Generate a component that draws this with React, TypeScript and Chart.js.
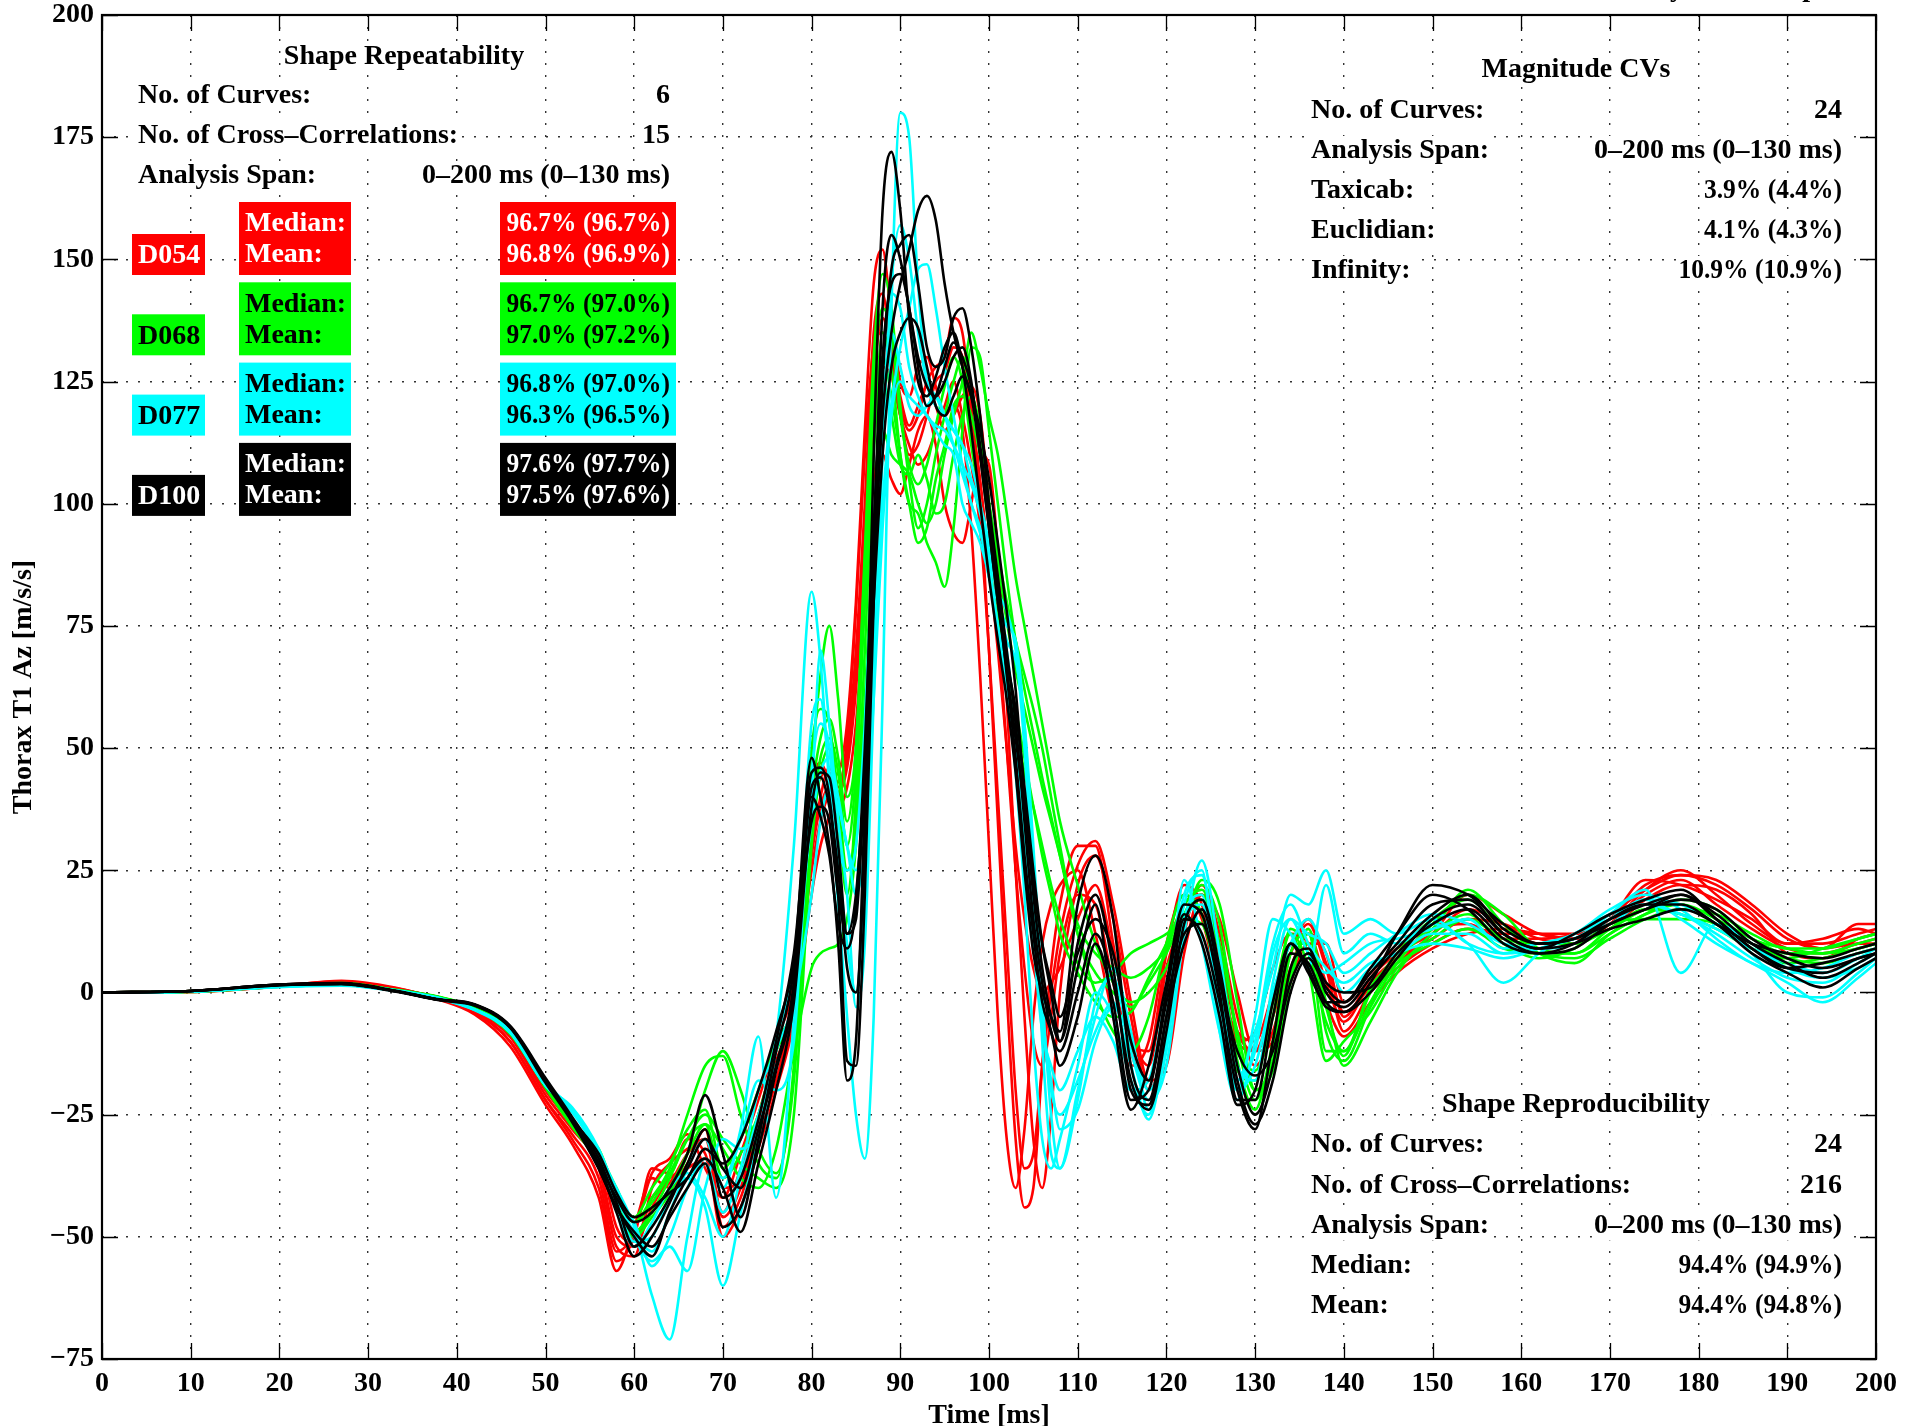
import React, { useEffect, useRef } from 'react';
import { Chart, registerables } from 'chart.js';

Chart.register(...registerables);

// ---------------- DATA ----------------
const TIME_MS = [0, 10, 20, 27, 33, 38, 42, 46, 50, 53,
  56, 58, 60, 62, 64, 66, 68, 70, 72, 74, 76, 78,
  80, 81, 82, 83, 84, 85, 86, 87, 88, 89, 90, 91, 92, 93, 94, 95, 96, 97, 98, 99, 100, 101, 102, 103, 104, 105, 106, 107,
  108, 110, 112, 114, 116, 118, 120, 122, 124, 126, 128, 130, 132, 134, 136, 138, 140,
  143, 146, 150, 154, 158, 162, 166, 170, 174, 178, 182, 186, 190, 194, 198, 200];

const D054_CURVES = [
  [0, 0.2, 1.4, 2.3, 0.8, -1.2, -4, -10, -22, -30,
    -40, -55, -50, -36, -37, -30, -33, -45, -36, -25, -12, 0,
    42, 47, 44, 45, 55, 80, 115, 145, 152, 138, 125, 122, 128, 130, 124, 118, 120, 115, 95, 65, 30, -5, -30, -40, -28, -5, 10, 18,
    22, 25, 12, -5, -15, -10, 10, 20, 15, 0, -8, -10, 0, 10, 12, 2, -6,
    2, 7, 11, 15, 14, 11, 10, 14, 21, 25, 20, 14, 10, 10, 12, 13],
  [0, 0.1, 1.2, 2, 0.6, -1, -3.5, -9, -21, -28,
    -36, -52, -54, -40, -35, -32, -30, -40, -38, -28, -15, -4,
    30, 40, 46, 43, 50, 70, 100, 135, 143, 130, 120, 115, 118, 125, 128, 130, 138, 135, 120, 100, 70, 35, 0, -30, -44, -40, -15, 5,
    18, 30, 30, 10, -12, -18, 0, 18, 20, 5, -10, -12, -2, 8, 14, 5, -8,
    0, 5, 10, 13, 12, 12, 12, 15, 22, 24, 22, 17, 11, 9, 14, 14],
  [0, 0.2, 1.3, 2.4, 1, -1.5, -4.5, -11, -23, -31,
    -42, -57, -48, -38, -40, -35, -28, -48, -42, -30, -18, -2,
    25, 35, 40, 38, 42, 55, 80, 105, 110, 105, 102, 108, 115, 118, 112, 100, 94, 92, 100, 110, 108, 90, 60, 25, -5, -30, -40, -25,
    0, 22, 28, 15, -5, -20, -10, 12, 22, 12, -5, -15, -8, 5, 12, 8, -5,
    3, 8, 12, 17, 14, 10, 11, 13, 19, 22, 21, 16, 8, 7, 11, 12],
  [0, 0.3, 1.5, 2.1, 0.7, -1.1, -3.8, -9, -20, -27,
    -35, -50, -52, -44, -38, -36, -34, -50, -44, -32, -20, -6,
    20, 30, 36, 40, 48, 65, 95, 125, 138, 132, 122, 116, 120, 124, 120, 115, 118, 122, 124, 118, 100, 75, 50, 25, 5, -10, -15, -5,
    8, 20, 18, 2, -10, -12, 8, 22, 18, 2, -10, -8, 5, 12, 10, -2, -9,
    -2, 4, 9, 12, 13, 12, 11, 14, 20, 23, 18, 13, 9, 8, 10, 11],
  [0, 0.2, 1.3, 2.2, 0.9, -1.3, -4.2, -10, -22, -29,
    -38, -53, -49, -37, -34, -29, -36, -42, -33, -22, -10, 2,
    35, 44, 45, 42, 52, 78, 110, 132, 135, 128, 118, 110, 112, 118, 125, 127, 132, 130, 118, 105, 88, 70, 50, 30, 15, 5, 0, 2,
    5, 15, 22, 8, -8, -15, 5, 15, 20, 8, -8, -12, -5, 8, 15, 6, -4,
    1, 6, 12, 20, 16, 12, 11, 15, 23, 22, 19, 15, 10, 11, 13, 12],
  [0, 0.1, 1.2, 1.9, 0.5, -1, -3.6, -8.5, -20, -27,
    -33, -48, -51, -42, -39, -33, -30, -46, -40, -27, -14, -3,
    28, 38, 42, 41, 46, 62, 88, 115, 128, 126, 118, 112, 108, 110, 115, 120, 125, 118, 108, 95, 70, 40, 10, -20, -36, -33, -15, 0,
    12, 26, 31, 18, -2, -18, -15, 8, 20, 15, 0, -12, -10, 2, 10, 10, -2,
    4, 9, 13, 14, 11, 11, 12, 16, 21, 24, 23, 18, 12, 9, 10, 10],
];

const D068_CURVES = [
  [0, 0.2, 1.3, 1.8, 0.5, -1, -3.2, -8, -19, -27,
    -33, -40, -47, -42, -36, -25, -15, -13, -25, -35, -38, -15,
    45, 65, 75, 60, 40, 50, 90, 130, 147, 140, 120, 105, 95, 100, 110, 118, 125, 130, 124, 110, 100, 90, 80, 72, 65, 58, 50, 40,
    30, 12, 4, 0, -3, 2, 8, 16, 22, 14, -10, -22, -12, 8, 12, -8, -14,
    -3, 6, 14, 20, 16, 9, 8, 12, 16, 18, 15, 11, 8, 8, 10, 11],
  [0, 0.1, 1.2, 1.7, 0.4, -1.1, -3.4, -8.5, -19.5, -27.5,
    -35, -43, -49, -45, -40, -33, -27, -32, -38, -40, -32, -12,
    5, 8, 9, 10, 15, 30, 60, 95, 115, 110, 108, 106, 100, 96, 100, 110, 118, 125, 135, 128, 118, 110, 98, 85, 75, 65, 55, 45,
    35, 22, 10, 2, -2, 0, 5, 14, 23, 18, -2, -20, -16, 2, 13, -2, -15,
    -6, 4, 12, 16, 10, 7, 9, 14, 15, 15, 14, 9, 6, 7, 9, 10],
  [0, 0.2, 1.4, 1.9, 0.6, -0.9, -3, -7.5, -18.5, -26.5,
    -35, -43, -49, -45, -38, -30, -25, -30, -35, -38, -40, -25,
    30, 45, 50, 35, 20, 40, 85, 120, 130, 122, 110, 100, 92, 95, 105, 112, 120, 122, 118, 110, 100, 88, 76, 66, 58, 50, 42, 35,
    28, 14, 8, 5, 3, 5, 9, 18, 20, 8, -14, -24, -10, 10, 10, -12, -12,
    0, 8, 15, 19, 12, 8, 7, 11, 15, 17, 16, 12, 9, 9, 11, 12],
  [0, 0.3, 1.3, 1.8, 0.5, -1.2, -3.3, -8, -19, -27,
    -32, -41, -46, -40, -35, -28, -24, -36, -30, -20, -10, 0,
    50, 58, 55, 40, 25, 35, 70, 110, 135, 128, 110, 100, 98, 92, 88, 83, 95, 115, 132, 130, 115, 100, 85, 72, 62, 53, 44, 36,
    28, 12, 0, -8, -12, -5, 10, 20, 16, 0, -16, -18, -2, 12, 5, -14, -10,
    -4, 5, 11, 15, 11, 10, 10, 13, 17, 18, 14, 10, 7, 6, 8, 9],
  [0, 0.2, 1.2, 1.7, 0.4, -1, -3.1, -8, -19, -27,
    -34, -44, -50, -46, -41, -33, -20, -12, -20, -32, -37, -18,
    35, 48, 52, 45, 30, 45, 80, 112, 125, 118, 108, 106, 110, 105, 98, 100, 110, 118, 122, 115, 100, 80, 65, 55, 45, 38, 30, 22,
    15, 6, 2, 4, 8, 10, 12, 15, 14, 2, -12, -16, -5, 13, 8, -6, -12,
    -2, 7, 13, 21, 14, 8, 6, 12, 16, 19, 17, 11, 9, 8, 9, 10],
  [0, 0.2, 1.3, 1.8, 0.5, -1, -3.2, -8, -19, -27,
    -33, -42, -47, -43, -37, -30, -27, -38, -33, -25, -12, -2,
    40, 52, 56, 48, 35, 50, 88, 125, 140, 135, 118, 108, 104, 108, 116, 124, 130, 125, 112, 100, 88, 76, 66, 58, 48, 38, 28, 20,
    12, 4, -2, -5, -4, 3, 10, 18, 21, 10, -8, -20, -14, 4, 12, -3, -13,
    1, 6, 10, 13, 9, 8, 8, 13, 17, 16, 13, 9, 7, 9, 11, 12],
];

const D077_CURVES = [
  [0, 0.2, 1.2, 1.5, 0.4, -1.2, -3.5, -8, -19, -24,
    -33, -40, -48, -62, -71, -50, -35, -45, -36, -20, -9, 30,
    82, 68, 42, 18, -5, -25, -34, -5, 60, 140, 180, 175, 145, 125, 120, 118, 115, 112, 108, 100, 88, 75, 62, 45, 20, -10, -30, -36,
    -30, -15, 0, -5, -18, -25, -5, 18, 25, -5, -20, -5, 15, 12, 5, 22, 8,
    12, 10, 14, 10, 2, 8, 12, 15, 19, 15, 10, 6, 2, -2, 3, 6],
  [0, 0.2, 1.1, 1.4, 0.3, -1.3, -3.6, -8.2, -19, -23.5,
    -32, -41, -50, -55, -52, -57, -40, -30, -32, -28, -12, 0,
    40, 70, 55, 35, 20, -3, 10, 60, 110, 145, 157, 150, 135, 125, 122, 118, 115, 112, 105, 100, 92, 80, 72, 68, 55, 30, 0, -25,
    -36, -20, -5, 5, -8, -24, -12, 15, 20, -8, -22, -10, 10, 18, 10, 5, 2,
    6, 8, 12, 12, 8, 10, 11, 16, 21, 4, 14, 10, 5, 3, 5, 7],
  [0, 0.2, 1.3, 1.6, 0.5, -1.1, -3.4, -7.8, -18.5, -24,
    -34, -43, -51, -50, -42, -38, -44, -60, -45, -30, -10, 5,
    35, 45, 48, 40, 30, 25, 40, 70, 100, 120, 132, 140, 148, 149, 140, 128, 118, 108, 100, 95, 85, 80, 75, 72, 55, 25, -10, -33,
    -36, -22, -2, 3, -12, -22, -15, 12, 27, 8, -15, -18, 2, 15, 12, 10, 4,
    8, 12, 16, 14, 10, 9, 10, 15, 19, 18, 14, 8, 0, -1, 4, 7],
  [0, 0.2, 1.2, 1.5, 0.4, -1.2, -3.5, -8, -19, -24.5,
    -33, -42, -49, -53, -45, -36, -30, -40, -28, -9, -42, -5,
    55, 60, 45, 30, 25, 30, 55, 95, 128, 143, 140, 128, 122, 118, 116, 115, 112, 108, 104, 98, 90, 82, 78, 70, 50, 20, -5, -20,
    -25, -18, -8, -2, -15, -26, -8, 23, 10, -8, -18, -8, 5, 20, 18, 25, 12,
    15, 12, 15, 10, 8, 9, 12, 16, 18, 16, 12, 7, 3, 2, 6, 8],
  [0, 0.2, 1.2, 1.5, 0.4, -1.2, -3.5, -8, -19, -24,
    -34, -44, -52, -47, -40, -37, -42, -50, -38, -25, -15, -2,
    20, 35, 42, 38, 30, 20, 30, 60, 95, 118, 125, 122, 120, 118, 115, 112, 110, 100, 96, 92, 85, 75, 65, 50, 30, 10, -8, -15,
    -20, -12, -5, -10, -20, -18, 0, 20, 24, 2, -18, -12, 8, 15, 8, 4, 6,
    10, 11, 13, 15, 9, 10, 12, 17, 20, 17, 11, 6, 4, 5, 8, 9],
  [0, 0.2, 1.2, 1.5, 0.4, -1.2, -3.5, -8, -19, -24,
    -33, -42, -47, -56, -50, -40, -34, -38, -30, -18, -20, -10,
    45, 55, 50, 28, 10, 0, 25, 75, 118, 135, 128, 120, 118, 120, 122, 118, 112, 106, 100, 94, 88, 82, 70, 55, 35, 15, -5, -18,
    -28, -24, -10, -3, -10, -20, -10, 14, 18, -2, -20, -15, 0, 10, 15, 8, 0,
    5, 8, 10, 9, 7, 9, 11, 14, 18, 16, 13, 9, 6, 4, 7, 9],
];

const D100_CURVES = [
  [0, 0.3, 1.6, 1.8, 0.3, -1.5, -2.5, -7, -18, -26,
    -35, -42, -47, -45, -40, -33, -21, -33, -46, -30, -12, 5,
    48, 40, 30, 10, -18, -10, 40, 110, 160, 172, 160, 138, 125, 122, 126, 132, 135, 128, 115, 100, 85, 72, 60, 45, 25, 8, 0, -5,
    -8, 18, 28, 15, -15, -22, -5, 15, 12, -2, -20, -28, -10, 8, 6, -2, -4,
    2, 12, 22, 20, 14, 10, 11, 15, 18, 20, 16, 10, 6, 3, 6, 8],
  [0, 0.3, 1.5, 1.7, 0.2, -1.6, -2.7, -7.2, -18.5, -26.5,
    -36, -44, -50, -54, -45, -38, -34, -40, -49, -35, -20, -2,
    38, 45, 44, 30, 12, 15, 45, 85, 118, 135, 145, 152, 160, 163, 158, 145, 135, 128, 122, 115, 105, 92, 78, 62, 40, 20, 5, -5,
    -10, 5, 18, -5, -24, -15, 2, 18, 16, 0, -22, -22, -5, 10, 4, -2, -2,
    4, 10, 18, 19, 12, 9, 12, 16, 19, 21, 15, 9, 5, 6, 8, 9],
  [0, 0.3, 1.6, 1.9, 0.4, -1.4, -2.4, -6.8, -17.5, -25.5,
    -34, -43, -52, -48, -42, -36, -30, -36, -40, -28, -15, 2,
    45, 46, 40, 20, -14, -15, 20, 80, 125, 148, 153, 155, 145, 132, 128, 130, 138, 140, 132, 118, 100, 85, 70, 55, 35, 15, 2, -8,
    -12, 0, 12, 2, -18, -24, -8, 14, 19, 5, -15, -25, -15, 5, 9, 0, -3,
    3, 9, 16, 20, 13, 10, 11, 14, 17, 19, 17, 11, 7, 5, 7, 8],
  [0, 0.3, 1.5, 1.8, 0.3, -1.5, -2.6, -7, -18, -26,
    -35, -45, -54, -50, -43, -35, -28, -42, -38, -26, -10, 8,
    40, 36, 28, 14, 9, 18, 50, 95, 130, 145, 147, 140, 128, 120, 122, 128, 133, 130, 124, 112, 98, 82, 65, 48, 28, 12, -2, -8,
    -15, -5, 10, -2, -22, -20, -2, 12, 14, 2, -12, -17, -12, 2, 8, 2, 0,
    1, 8, 14, 17, 11, 8, 10, 15, 18, 18, 14, 10, 8, 7, 9, 10],
  [0, 0.3, 1.6, 1.8, 0.3, -1.5, -2.5, -7, -18, -26,
    -33, -41, -46, -44, -41, -38, -32, -35, -30, -20, -8, 6,
    35, 38, 35, 20, 12, 20, 45, 80, 110, 128, 135, 138, 136, 128, 120, 118, 122, 126, 122, 110, 95, 80, 66, 52, 38, 22, 10, 2,
    -5, 8, 15, 8, -10, -18, 0, 16, 10, -5, -23, -20, -2, 10, 5, -3, -4,
    0, 7, 15, 18, 12, 9, 10, 13, 15, 17, 14, 8, 4, 1, 5, 7],
  [0, 0.3, 1.6, 1.8, 0.3, -1.5, -2.5, -7, -18, -26,
    -36, -44, -49, -52, -46, -40, -35, -48, -44, -32, -16, 0,
    42, 44, 38, 25, 5, 0, 30, 90, 140, 155, 150, 140, 130, 124, 122, 125, 130, 132, 125, 110, 95, 80, 68, 58, 42, 25, 10, 0,
    -10, 10, 20, 5, -20, -23, -5, 10, 17, 3, -18, -27, -18, 0, 7, 1, -2,
    5, 12, 20, 17, 10, 8, 9, 14, 17, 20, 15, 9, 5, 4, 7, 8],
];

const GROUP_NAMES = ['D054', 'D068', 'D077', 'D100'];
const GROUP_COLORS = ['#ff0000', '#00ff00', '#00ffff', '#000000'];
const GROUP_TEXT_COLORS = ['#ffffff', '#000000', '#000000', '#ffffff'];
const GROUP_MEDIAN = ['96.7% (96.7%)', '96.7% (97.0%)', '96.8% (97.0%)', '97.6% (97.7%)'];
const GROUP_MEAN = ['96.8% (96.9%)', '97.0% (97.2%)', '96.3% (96.5%)', '97.5% (97.6%)'];
const GROUP_CURVES = [D054_CURVES, D068_CURVES, D077_CURVES, D100_CURVES];

const REPEAT_TITLE = 'Shape Repeatability';
const REPEAT_ROWS = [
  ['No. of Curves:', '6'],
  ['No. of Cross\u2013Correlations:', '15'],
  ['Analysis Span:', '0\u2013200 ms (0\u2013130 ms)'],
];
const CV_TITLE = 'Magnitude CVs';
const CV_ROWS = [
  ['No. of Curves:', '24'],
  ['Analysis Span:', '0\u2013200 ms (0\u2013130 ms)'],
  ['Taxicab:', '3.9% (4.4%)'],
  ['Euclidian:', '4.1% (4.3%)'],
  ['Infinity:', '10.9% (10.9%)'],
];
const REPRO_TITLE = 'Shape Reproducibility';
const REPRO_ROWS = [
  ['No. of Curves:', '24'],
  ['No. of Cross\u2013Correlations:', '216'],
  ['Analysis Span:', '0\u2013200 ms (0\u2013130 ms)'],
  ['Median:', '94.4% (94.9%)'],
  ['Mean:', '94.4% (94.8%)'],
];

const X_LABEL = 'Time [ms]';
const Y_LABEL = 'Thorax T1 Az [m/s/s]';
const X_MIN = 0, X_MAX = 200, X_STEP = 10;
const Y_MIN = -75, Y_MAX = 200, Y_STEP = 25;

// ---------------- DRAWING ----------------
const FONT_FAMILY = '"Liberation Serif", "Times New Roman", serif';
const TEXT_FONT = `bold 28px ${FONT_FAMILY}`;
const TY = 3; // vertical nudge for text centres

function drawText(ctx: CanvasRenderingContext2D, s: string, x: number, y: number,
  align: CanvasTextAlign, color: string, bg: string | null) {
  ctx.font = TEXT_FONT;
  ctx.textAlign = align;
  ctx.textBaseline = 'middle';
  const natural = ctx.measureText(s).width;
  const w = s.indexOf('%') >= 0 ? natural * 0.91 : natural;
  if (bg) {
    const x0 = align === 'left' ? x : align === 'right' ? x - w : x - w / 2;
    ctx.fillStyle = bg;
    ctx.fillRect(x0 - 2, y + TY - 15, w + 4, 30);
  }
  ctx.fillStyle = color;
  ctx.fillText(s, x, y + TY, w);
}

const overlayPlugin = {
  id: 'overlay',
  afterDatasetsDraw(chart: any) {
    const ctx: CanvasRenderingContext2D = chart.ctx;
    const { left, right, top, bottom } = chart.chartArea;
    const xs = chart.scales.x;
    const ys = chart.scales.y;
    ctx.save();
    // inward tick marks
    ctx.strokeStyle = '#000';
    ctx.lineWidth = 1.3;
    const TL = 16;
    ctx.beginPath();
    xs.ticks.forEach((t: any) => {
      const px = Math.round(xs.getPixelForValue(t.value)) + 0.5;
      ctx.moveTo(px, bottom); ctx.lineTo(px, bottom - TL);
      ctx.moveTo(px, top); ctx.lineTo(px, top + TL);
    });
    ys.ticks.forEach((t: any) => {
      const py = Math.round(ys.getPixelForValue(t.value)) + 0.5;
      ctx.moveTo(left, py); ctx.lineTo(left + TL, py);
      ctx.moveTo(right, py); ctx.lineTo(right - TL, py);
    });
    ctx.stroke();
    // frame
    ctx.lineWidth = 2.2;
    ctx.strokeRect(left, top, right - left, bottom - top);

    // Shape Repeatability block
    drawText(ctx, REPEAT_TITLE, 404, 54, 'center', '#000', '#fff');
    REPEAT_ROWS.forEach((r, i) => {
      const y = 93 + i * 40;
      drawText(ctx, r[0], 138, y, 'left', '#000', '#fff');
      drawText(ctx, r[1], 670, y, 'right', '#000', '#fff');
    });
    GROUP_NAMES.forEach((name, i) => {
      const boxTop = 202 + i * 80.3;
      const col = GROUP_COLORS[i];
      const tc = GROUP_TEXT_COLORS[i];
      ctx.fillStyle = col;
      ctx.fillRect(132, boxTop + 32, 73, 41);
      ctx.fillRect(239, boxTop, 112, 73);
      ctx.fillRect(500, boxTop, 176, 73);
      drawText(ctx, name, 138, boxTop + 51, 'left', tc, null);
      drawText(ctx, 'Median:', 245, boxTop + 19, 'left', tc, null);
      drawText(ctx, 'Mean:', 245, boxTop + 50, 'left', tc, null);
      drawText(ctx, GROUP_MEDIAN[i], 670, boxTop + 19, 'right', tc, null);
      drawText(ctx, GROUP_MEAN[i], 670, boxTop + 50, 'right', tc, null);
    });

    // Magnitude CVs block
    drawText(ctx, CV_TITLE, 1576, 67, 'center', '#000', '#fff');
    CV_ROWS.forEach((r, i) => {
      const y = 108 + i * 40;
      drawText(ctx, r[0], 1311, y, 'left', '#000', '#fff');
      drawText(ctx, r[1], 1842, y, 'right', '#000', '#fff');
    });

    // Shape Reproducibility block
    drawText(ctx, REPRO_TITLE, 1576, 1102, 'center', '#000', '#fff');
    REPRO_ROWS.forEach((r, i) => {
      const y = 1142 + i * 40.3;
      drawText(ctx, r[0], 1311, y, 'left', '#000', '#fff');
      drawText(ctx, r[1], 1842, y, 'right', '#000', '#fff');
    });

    // clipped figure title (only descenders visible at the top edge)
    ctx.font = TEXT_FONT;
    ctx.textAlign = 'center';
    ctx.textBaseline = 'alphabetic';
    ctx.fillStyle = '#000';
    ctx.fillText('y', 1677, -4);
    ctx.fillText('p', 1810, -4);
    ctx.restore();
  },
};

function minusFmt(v: number | string) {
  const n = Number(v);
  return n < 0 ? '\u2212' + Math.abs(n) : String(n);
}

export default function App() {
  const canvasRef = useRef<HTMLCanvasElement | null>(null);

  useEffect(() => {
    document.body.style.margin = '0';
    const canvas = canvasRef.current;
    if (!canvas) return;

    const datasets: any[] = [];
    // later groups drawn on top: Chart.js draws dataset 0 last, so reverse
    for (let g = GROUP_CURVES.length - 1; g >= 0; g--) {
      GROUP_CURVES[g].forEach((curve, k) => {
        datasets.push({
          label: `${GROUP_NAMES[g]}-${k + 1}`,
          data: TIME_MS.map((t, i) => ({ x: t, y: curve[i] })),
          borderColor: GROUP_COLORS[g],
          backgroundColor: GROUP_COLORS[g],
          borderWidth: 2.6,
          pointRadius: 0,
          fill: false,
          tension: 0.4,
          cubicInterpolationMode: 'monotone',
        });
      });
    }

    const tickFont = { family: FONT_FAMILY, size: 28, weight: 'bold' as const, lineHeight: 1 };
    const chart = new Chart(canvas, {
      type: 'line',
      data: { datasets },
      plugins: [overlayPlugin],
      options: {
        responsive: false,
        devicePixelRatio: 1,
        animation: false,
        events: [],
        layout: { padding: { left: 0, right: 47, top: 15, bottom: 0 } },
        plugins: { legend: { display: false }, tooltip: { enabled: false }, title: { display: false } },
        scales: {
          x: {
            type: 'linear',
            min: X_MIN,
            max: X_MAX,
            ticks: {
              stepSize: X_STEP, color: '#000', font: tickFont, padding: 11,
              maxRotation: 0, autoSkip: false, includeBounds: true,
            },
            grid: { color: '#333', lineWidth: 1.4, drawTicks: false },
            border: { display: false, dash: [2, 10] },
            title: {
              display: true, text: X_LABEL, color: '#000',
              font: { family: FONT_FAMILY, size: 28, weight: 'bold', lineHeight: 1 },
              padding: { top: 0, bottom: -4 },
            },
            afterFit: (s: any) => {
              s.height = 67;
              s.paddingLeft = 0; s.paddingRight = 0; s.paddingTop = 0; s.paddingBottom = 0;
            },
          },
          y: {
            type: 'linear',
            min: Y_MIN,
            max: Y_MAX,
            ticks: {
              stepSize: Y_STEP, color: '#000', font: tickFont, padding: 8,
              callback: (v: any) => minusFmt(v),
            },
            grid: { color: '#333', lineWidth: 1.4, drawTicks: false },
            border: { display: false, dash: [2, 10] },
            title: {
              display: true, text: Y_LABEL, color: '#000',
              font: { family: FONT_FAMILY, size: 28, weight: 'bold', lineHeight: 1 },
              padding: { top: 10, bottom: 0 },
            },
            afterFit: (s: any) => {
              s.width = 102;
              s.paddingTop = 0; s.paddingBottom = 0; s.paddingLeft = 0; s.paddingRight = 0;
            },
          },
        },
      } as any,
    });
    return () => chart.destroy();
  }, []);

  return (
    <div style={{ position: 'fixed', left: 0, top: 0, width: 1923, height: 1426, background: '#fff' }}>
      <canvas ref={canvasRef} width={1923} height={1426} style={{ display: 'block' }} />
    </div>
  );
}
